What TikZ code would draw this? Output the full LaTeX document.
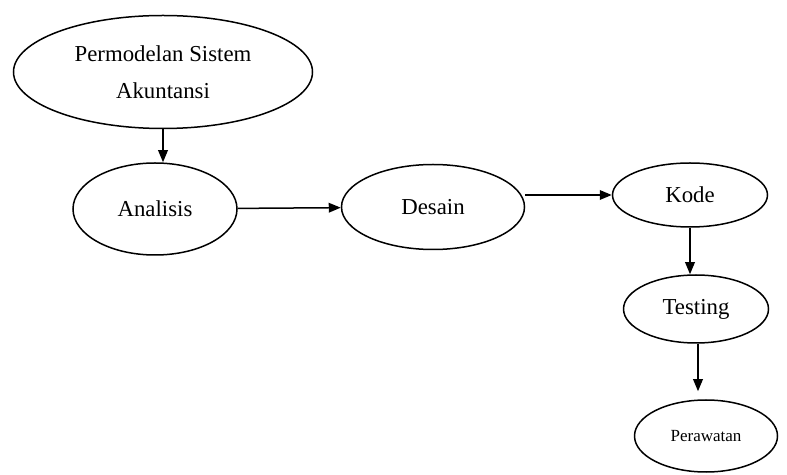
\documentclass[tikz,border=0pt]{standalone}
\usepackage{fontspec}
\setmainfont{Liberation Serif}
\usetikzlibrary{shapes.geometric, arrows.meta}

\begin{document}
\begin{tikzpicture}[x=0.5pt, y=-0.5pt,
    tahap/.style={draw, ellipse, line width=0.75pt, inner sep=0pt, font=\fontsize{11.4}{18.5}\selectfont, align=center},
    panah/.style={-{Triangle[length=6pt, width=4.8pt]}, line width=0.75pt}]
    \useasboundingbox (0,0) rectangle (787,475);
    \node[tahap, minimum width=149.5pt, minimum height=56.5pt] (model) at (163,72) {Permodelan Sistem\\Akuntansi};
    \node[tahap, minimum width=82pt, minimum height=46pt] (analisis) at (155,209) {Analisis};
    \node[tahap, minimum width=91.5pt, minimum height=42.5pt] (desain) at (433,207) {Desain};
    \node[tahap, minimum width=77.5pt, minimum height=32pt] (kode) at (690,195) {Kode};
    \node[tahap, minimum width=72.5pt, minimum height=34pt] (testing) at (696,309) {Testing};
    \node[tahap, minimum width=71.5pt, minimum height=36pt, font=\fontsize{8.5}{10}\selectfont] (rawat) at (706,436) {Perawatan};
    \draw[panah] (model) -- (model |- analisis.north);
    \draw[panah] (analisis) -- (desain);
    \draw[panah] (desain.east |- kode.west) -- (kode.west);
    \draw[panah] (kode) -- (kode |- testing.north);
    \draw[panah, shorten >=4pt] (testing.south -| 698,0) -- (rawat.north -| 698,0);
\end{tikzpicture}
\end{document}
